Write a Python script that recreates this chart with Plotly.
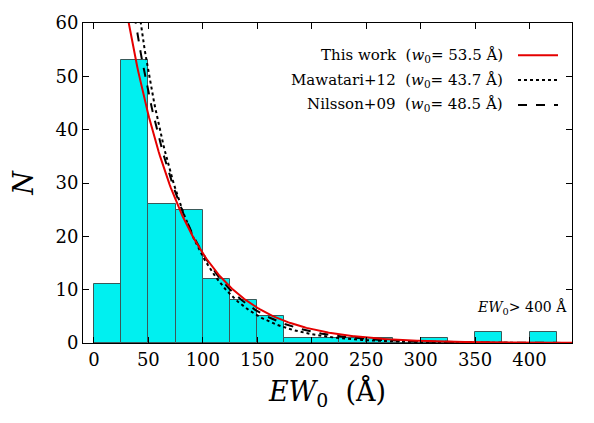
import numpy as np
import plotly.graph_objects as go

# Histogram data (bin left edges, counts)
bin_left = [0, 25, 50, 75, 100, 125, 150, 175, 200, 225, 250, 275, 300, 325, 350, 375, 400]
counts = [11, 53, 26, 25, 12, 8, 5, 1, 1, 1, 1, 0, 1, 0, 2, 0, 2]
bin_width = 25

# Exponential fits: N = A * exp(-EW/w0)
fit_names = ["Mawatari+12", "Nilsson+09", "This work"]
fit_w0 = [43.7, 48.5, 53.5]
fit_amp = [160.0, 132.0, 109.0]
fit_dash = ["dot", "dash", "solid"]
fit_color = ["black", "black", "#e50000"]

x_ticks = [0, 50, 100, 150, 200, 250, 300, 350, 400]
y_ticks = [0, 10, 20, 30, 40, 50, 60]

FONT = "DejaVu Serif"

fig = go.Figure()
fig.add_trace(go.Bar(
    x=[b + bin_width / 2 for b in bin_left], y=counts, width=bin_width,
    marker=dict(color="#00f0f0", line=dict(color="#3a5a5a", width=1)),
    showlegend=False,
))

xs = np.linspace(0, 440, 400)
for name, w0, a, d, c in zip(fit_names, fit_w0, fit_amp, fit_dash, fit_color):
    fig.add_trace(go.Scatter(x=xs, y=a * np.exp(-xs / w0), mode="lines",
                             line=dict(color=c, width=2, dash=d),
                             showlegend=False, name=name))

axis_common = dict(showline=True, linecolor="black", linewidth=1, mirror="allticks",
                   ticks="inside", ticklen=6, tickcolor="black", showgrid=False,
                   zeroline=False, tickfont=dict(family=FONT, size=18, color="black"))

fig.update_layout(
    width=594, height=423,
    margin=dict(l=83, r=22, t=15, b=80),
    plot_bgcolor="white", paper_bgcolor="white",
    bargap=0,
    font=dict(family=FONT, color="black"),
    xaxis=dict(range=[-10, 439], tickvals=x_ticks, **axis_common,
               title=dict(text="<i>EW</i><sub>0</sub>  (Å)",
                          font=dict(family=FONT, size=27, color="black"), standoff=13)),
    yaxis=dict(range=[0, 60], tickvals=y_ticks, **axis_common,
               title=dict(text="<i>N</i>", font=dict(family=FONT, size=27, color="black"),
                          standoff=14)),
)

# Legend (text right-aligned, sample line on the right)
leg_labels = ["This work  (<i>w</i><sub>0</sub>= 53.5 Å)",
              "Mawatari+12  (<i>w</i><sub>0</sub>= 43.7 Å)",
              "Nilsson+09  (<i>w</i><sub>0</sub>= 48.5 Å)"]
leg_dash = ["solid", "dot", "dash"]
leg_color = ["#e50000", "black", "black"]
H = 423
for i, (lab, d, c) in enumerate(zip(leg_labels, leg_dash, leg_color)):
    ypx = 48 + i * 25.5
    yy = (H - 80 - ypx) / (H - 95)
    fig.add_annotation(xref="paper", yref="paper", x=(505 - 83) / (572 - 83),
                       y=yy, xanchor="right", yanchor="middle",
                       text=lab, showarrow=False,
                       font=dict(family=FONT, size=15, color="black"))
    fig.add_shape(type="line", xref="paper", yref="paper",
                  x0=(518 - 83) / (572 - 83), x1=(558 - 83) / (572 - 83), y0=yy, y1=yy,
                  line=dict(color=c, width=2, dash=d))

fig.add_annotation(xref="paper", yref="paper", x=(569 - 83) / (572 - 83),
                   y=(H - 80 - 307) / (H - 95), xanchor="right", yanchor="middle",
                   text="<i>EW</i><sub>0</sub>> 400 Å", showarrow=False,
                   font=dict(family=FONT, size=14, color="black"))

fig.write_html("out.html")
